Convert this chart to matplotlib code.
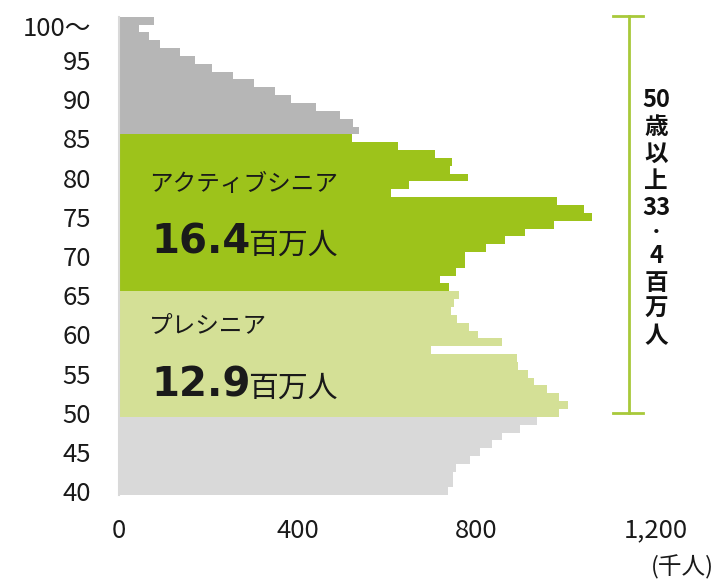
import matplotlib
matplotlib.use("Agg")
import matplotlib.pyplot as plt
from matplotlib.transforms import ScaledTranslation

plt.rcParams['font.family'] = ['Noto Sans CJK JP', 'DejaVu Sans']

# Population by age (thousands), ages 40 .. 100+
ages = list(range(40, 101))
population = [
    737, 747, 748, 754, 786, 807, 835, 857, 896, 934,    # 40-49
    985, 1005, 985, 958, 929, 915, 893, 891, 698, 857,   # 50-59
    803, 782, 756, 743, 749, 760, 738, 718, 754, 774,    # 60-69
    774, 821, 864, 909, 973, 1059, 1041, 979, 608, 648,  # 70-79
    780, 741, 744, 707, 623, 522, 537, 523, 494, 440,    # 80-89
    384, 348, 303, 255, 208, 171, 137, 92, 67, 45,       # 90-99
    78,                                                  # 100+
]

# age bands: (first age, last age, colour)
bands = [
    (40, 49, '#d9d9d9'),
    (50, 65, '#d4e096'),
    (66, 85, '#9dc31b'),
    (86, 100, '#b6b6b6'),
]

ytick_ages = [40, 45, 50, 55, 60, 65, 70, 75, 80, 85, 90, 95, 100]
ytick_labels = ['40', '45', '50', '55', '60', '65', '70', '75', '80', '85', '90', '95', '100～']
xticks = [0, 400, 800, 1200]
xtick_labels = ['0', '400', '800', '1,200']

groups = [
    ('アクティブシニア', '16.4', 79.05, 70.26),
    ('プレシニア', '12.9', 60.95, 52.04),
]
side_text = ['50', '歳', '以', '上', '33', '・', '4', '百', '万', '人']
side_y = [100, 127, 154, 181, 208, 232, 256, 283, 309, 336]   # pixel rows from top


def band_colour(age):
    for lo, hi, c in bands:
        if lo <= age <= hi:
            return c
    return '#d9d9d9'


fig = plt.figure(figsize=(7.2, 5.81), dpi=100)
ax = fig.add_axes([0.1653, 0.1475, 0.9104 - 0.1653, 0.9713 - 0.1475])

colors = [band_colour(a) for a in ages]
ax.barh(ages, population, height=1.0, color=colors, linewidth=0)

ax.set_xlim(0, 1200)
ax.set_ylim(39.5, 100.5)

ax.set_yticks(ytick_ages)
ax.set_yticklabels(ytick_labels, fontsize=18.5, color='#1a1a1a')
ax.set_xticks(xticks)
ax.set_xticklabels(xtick_labels, fontsize=18.5, color='#1a1a1a')
ax.tick_params(axis='y', length=0, pad=20)
ax.tick_params(axis='x', length=0, pad=16)

# the "100～" label sits a little lower in the original
top_lbl = ax.get_yticklabels()[-1]
top_lbl.set_transform(top_lbl.get_transform() + ScaledTranslation(0, -0.05, fig.dpi_scale_trans))

for s in ['top', 'right', 'bottom']:
    ax.spines[s].set_visible(False)
ax.spines['left'].set_color('#d9d9d9')
ax.spines['left'].set_linewidth(1.5)

# group labels inside the bars
for name, total, y_name, y_num in groups:
    ax.text(68, y_name, name, fontsize=17, va='center', ha='left', color='#1a1a1a')
    ax.text(73, y_num, total, fontsize=29, fontweight='bold', va='baseline', ha='left',
            family='DejaVu Sans', color='#1a1a1a')
    ax.text(288, y_num, '百万人', fontsize=21.5, va='baseline', ha='left', color='#1a1a1a')

# bracket for 50+
bracket_col = '#a8c93a'
ax.plot([1141, 1141], [50, 100.62], color=bracket_col, lw=2, clip_on=False)
ax.plot([1105, 1172], [100.62, 100.62], color=bracket_col, lw=2, clip_on=False)
ax.plot([1105, 1172], [50, 50], color=bracket_col, lw=2, clip_on=False)

# vertical caption, one glyph group per line
for s, ypx in zip(side_text, side_y):
    fs = 12 if s == '・' else 17
    fig.text(656 / 720, 1 - ypx / 581, s, fontsize=fs, fontweight='bold',
             ha='center', va='center', color='#111111')

fig.text(714 / 720, 1 - 567 / 581, '(千人)', fontsize=17, ha='right', va='center',
         color='#1a1a1a')

fig.savefig('out.png', dpi=100)
